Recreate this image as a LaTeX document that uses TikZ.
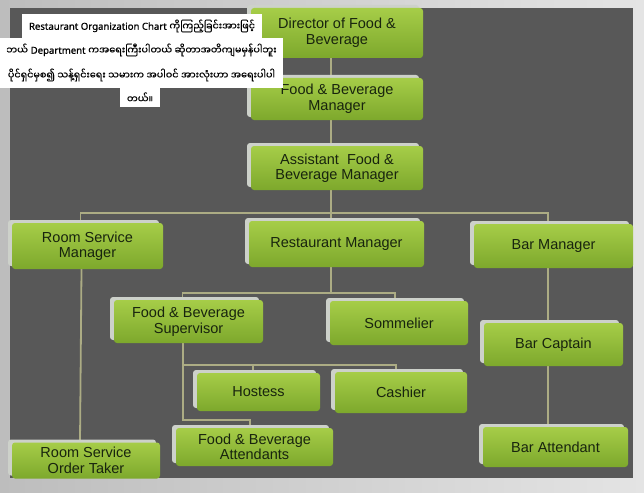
\documentclass[tikz,border=0pt]{standalone}
\usepackage{fontspec}
\setmainfont{Liberation Sans}
\newfontfamily\mmfont[Script=Myanmar,FakeBold=0.6]{Noto Sans Myanmar UI}
\newfontfamily\latfont[FakeBold=0.9]{Noto Sans}
\usetikzlibrary{shadows}
\pgfdeclarelayer{bg}
\pgfsetlayers{bg,main}
\definecolor{panel}{HTML}{585858}
\definecolor{outerL}{HTML}{BDBDBD}
\definecolor{outerR}{HTML}{E4E4E4}
\definecolor{gtop}{HTML}{A6CD48}
\definecolor{gbot}{HTML}{7DA82C}
\definecolor{bevel}{HTML}{CDD1CA}
\definecolor{txt}{HTML}{18240E}
\definecolor{linec}{HTML}{ACAC84}
\tikzset{
  box/.style={rounded corners=3pt, top color=gtop, bottom color=gbot, draw=none,
    general shadow={fill=bevel, shadow xshift=-4pt, shadow yshift=3pt, rounded corners=3pt},
    text=txt, font=\fontsize{14.5}{15.5}\selectfont, align=center, inner sep=0pt},
  conn/.style={draw=linec, line width=1.8pt},
  mmline/.style={fill=white, inner sep=0pt, text=black, font=\fontsize{9.6}{11}\selectfont}
}
\begin{document}
\begin{tikzpicture}[x=1pt,y=-1pt]
\useasboundingbox (0,0) rectangle (644,492);
% boxes
\node[box, minimum width=172, minimum height=50] (dir) at (337,33) {Director of Food \&\\Beverage};
\node[box, minimum width=172, minimum height=42] (fbm) at (337,99) {Food \& Beverage\\Manager};
\node[box, minimum width=172, minimum height=44] (asst) at (337,168) {Assistant\ \ Food \&\\Beverage Manager};
\node[box, minimum width=151, minimum height=46] (rsm) at (87.5,246) {Room Service\\Manager};
\node[box, minimum width=175, minimum height=46] (rm) at (336.5,244) {Restaurant Manager};
\node[box, minimum width=159, minimum height=44] (bm) at (553.5,246) {Bar Manager};
\node[box, minimum width=149, minimum height=43] (sup) at (188.5,321.5) {Food \& Beverage\\Supervisor};
\node[box, minimum width=138, minimum height=44] (som) at (399,323) {Sommelier};
\node[box, minimum width=139, minimum height=43] (bc) at (553.5,344.5) {Bar Captain};
\node[box, minimum width=123, minimum height=38] (host) at (258.5,392) {Hostess};
\node[box, minimum width=132, minimum height=41] (cash) at (401,392.5) {Cashier};
\node[box, minimum width=148, minimum height=36] (rsot) at (86,460.5) {Room Service\\Order Taker};
\node[box, minimum width=157, minimum height=38] (fba) at (254.5,447) {Food \& Beverage\\Attendants};
\node[box, minimum width=145, minimum height=40] (ba) at (555.5,447) {Bar Attendant};
% bus coordinates
\coordinate (bus1) at (331,213);
\coordinate (bus2) at (331,293);
\coordinate (bus3) at (183,365);
\coordinate (bus4) at (183,420);
\begin{pgfonlayer}{bg}
\shade[left color=outerL, right color=outerR] (0,0) rectangle (644,492);
\fill[panel] (10,8) rectangle (633,478);
\draw[conn] ([xshift=-6pt]dir.south) -- ([xshift=-6pt]fbm.north);
\draw[conn] ([xshift=-6pt]fbm.south) -- ([xshift=-6pt]asst.north);
\draw[conn] ([xshift=-6pt]asst.south) -- ([xshift=-5.5pt]rm.north);
\draw[conn] ([xshift=-7pt]rsm.north) |- (bus1) -| ([xshift=-5.5pt]bm.north);
\draw[conn] ([xshift=-5.5pt]rm.south) -- (bus2);
\draw[conn] ([xshift=-6pt]sup.north) |- (bus2) -| ([xshift=-4pt]som.north);
\draw[conn] ([xshift=-5.5pt]sup.south) -- (bus4) -| ([xshift=-4.5pt]fba.north);
\draw[conn] (bus3) -| ([xshift=-5pt]cash.north);
\draw[conn] ([xshift=-5.5pt]host.north) -- ([xshift=-5.5pt]host.north |- bus3);
\draw[conn] ([xshift=-6pt]rsm.south) -- ([xshift=-6pt]rsot.north);
\draw[conn] ([xshift=-5.5pt]bm.south) -- ([xshift=-5.5pt]bc.north);
\draw[conn] ([xshift=-5.5pt]bc.south) -- ([xshift=-5.5pt]bc.south |- ba.north);
\end{pgfonlayer}
% Myanmar text highlight lines
\node[mmline, minimum width=240, minimum height=24] (t1) at (142,26)
  {{\latfont Restaurant Organization Chart} {\mmfont ကိုကြည့်ခြင်းအားဖြင့်}};
\node[mmline, minimum width=283, minimum height=24] (t2) at (141.5,50)
  {{\mmfont ဘယ်} {\latfont Department} {\mmfont ကအရေးကြီးပါတယ် ဆိုတာအတိကျမမှန်ပါဘူး}};
\node[mmline, minimum width=283, minimum height=26] (t3) at (141.5,75)
  {{\mmfont ပိုင်ရှင်မှစ၍ သန့်ရှင်းရေး သမားက အပါဝင် အားလုံးဟာ အရေးပါပါ}};
\node[mmline, minimum width=40, minimum height=19.5] (t4) at (140,97.5)
  {{\mmfont တယ်။}};
\end{tikzpicture}
\end{document}
